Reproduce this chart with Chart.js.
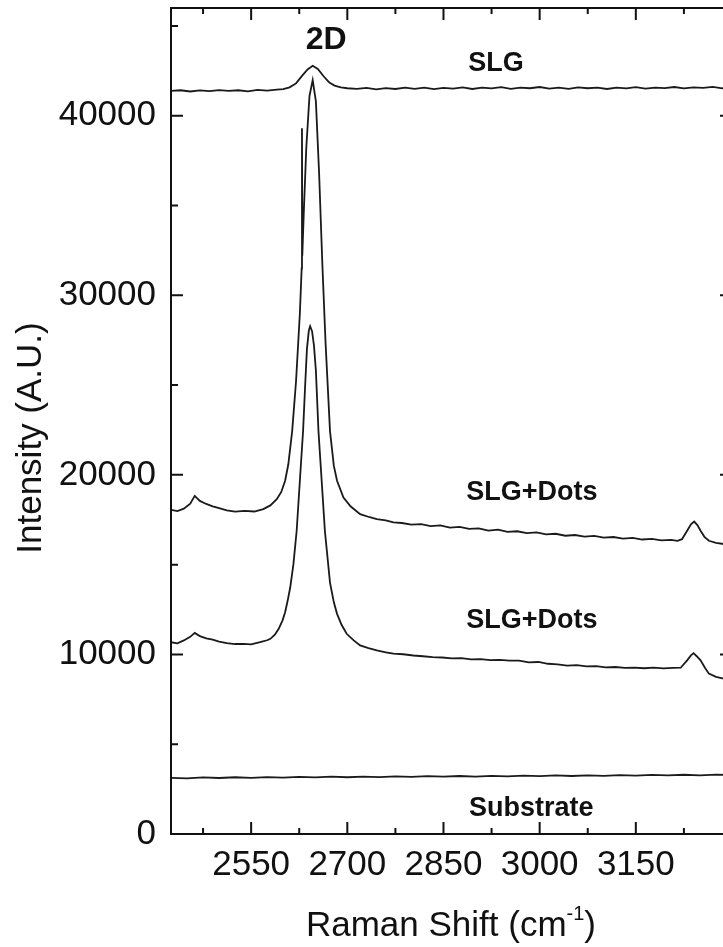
<!DOCTYPE html>
<html>
<head>
<meta charset="utf-8">
<script src="https://cdn.jsdelivr.net/npm/chart.js@4.4.1/dist/chart.umd.min.js"></script>
<style>
  html, body { margin: 0; padding: 0; background: #fff; overflow: hidden; }
  #wrap { width: 723px; height: 947px; overflow: hidden; }
  canvas { display: block; }
</style>
</head>
<body>
<div id="wrap"><canvas id="ramanChart" width="740" height="947"></canvas></div>
<script>
// Raman shift (cm-1) and intensity (A.U.)
const slgShift = [2425, 2440, 2455, 2470, 2485, 2500, 2515, 2530, 2545, 2560, 2575, 2590, 2600, 2610, 2620, 2630, 2638, 2646, 2654, 2663, 2672, 2680, 2690, 2700,
    2715, 2730, 2745, 2760, 2775, 2790, 2805, 2820, 2835, 2850, 2865, 2880, 2895, 2910, 2925, 2940, 2955, 2970, 2985, 3000,
    3015, 3030, 3045, 3060, 3075, 3090, 3105, 3120, 3135, 3150, 3165, 3180, 3195, 3210, 3225, 3240, 3255, 3270, 3285, 3300];
const slgIntensity = [41380, 41420, 41350, 41410, 41370, 41430, 41380, 41420, 41360, 41440, 41400, 41450, 41480, 41580, 41800, 42250, 42580, 42780, 42600, 42200, 41850, 41680, 41580, 41530,
    41500, 41550, 41470, 41540, 41490, 41560, 41500, 41570, 41480, 41550, 41510, 41580, 41490, 41560, 41520, 41590, 41500, 41570, 41530, 41600,
    41510, 41560, 41500, 41580, 41530, 41570, 41490, 41560, 41520, 41590, 41510, 41570, 41540, 41600, 41520, 41580, 41550, 41610, 41530, 41580];

const dots1Shift = [2425, 2435, 2445, 2455, 2462, 2470, 2480, 2490, 2500, 2512, 2525, 2540, 2555, 2569, 2580, 2590, 2597, 2603, 2608, 2614, 2620, 2626,
    2628.8, 2629.3, 2629.8, 2632, 2636, 2641, 2646, 2651, 2656, 2661, 2666, 2673, 2679, 2684, 2694, 2705, 2720, 2735, 2746, 2760, 2772, 2785,
    2800, 2815, 2830, 2845, 2860, 2875, 2890, 2905, 2920, 2935, 2950, 2965, 2980, 2995, 3010, 3025, 3040, 3055, 3070, 3085, 3100, 3115,
    3130, 3145, 3160, 3175, 3190, 3205, 3215, 3222, 3230, 3236, 3241, 3246, 3251, 3257, 3264, 3275, 3287, 3300];
const dots1Intensity = [18050, 17980, 18120, 18400, 18830, 18550, 18380, 18250, 18150, 18020, 17950, 17990, 17960, 18090, 18300, 18650, 19050, 19670, 20590, 22440, 25200, 29000,
    31500, 39300, 32200, 34500, 38200, 41100, 41980, 40800, 36800, 31800, 27400, 22440, 20500, 19670, 18740, 18250, 17810, 17640, 17540, 17460, 17350, 17320,
    17230, 17260, 17150, 17190, 17060, 17100, 16990, 17020, 16900, 16950, 16830, 16860, 16760, 16800, 16690, 16720, 16610, 16650, 16560, 16600, 16510, 16540,
    16450, 16490, 16400, 16440, 16350, 16380, 16330, 16420, 16890, 17250, 17400, 17200, 16890, 16550, 16330, 16210, 16150, 16100];

const dots2Shift = [2425, 2435, 2445, 2455, 2462, 2470, 2480, 2490, 2500, 2512, 2525, 2538, 2550, 2564, 2575, 2580, 2587, 2593, 2599, 2603, 2607, 2611,
    2616, 2621, 2626, 2631, 2634, 2637, 2640, 2642, 2645, 2648, 2651, 2655, 2660, 2665, 2673, 2679, 2684, 2691, 2699, 2710, 2720, 2733,
    2746, 2760, 2772, 2787, 2803, 2818, 2833, 2848, 2863, 2878, 2893, 2908, 2923, 2938, 2953, 2968, 2983, 2998, 3013, 3028, 3043, 3058,
    3073, 3088, 3103, 3118, 3133, 3148, 3163, 3178, 3193, 3208, 3220, 3230, 3236, 3240, 3245, 3251, 3258, 3264, 3275, 3287, 3300];
const dots2Intensity = [10680, 10620, 10780, 10980, 11200, 11020, 10900, 10820, 10720, 10630, 10580, 10590, 10560, 10680, 10790, 10870, 11100, 11430, 11900, 12350, 13000, 13740,
    15040, 16890, 19670, 22440, 24800, 27000, 28050, 28280, 28000, 27200, 25800, 22440, 19670, 16890, 14000, 12900, 12260, 11650, 11150, 10780, 10500, 10350,
    10220, 10120, 10040, 10010, 9940, 9900, 9850, 9830, 9780, 9790, 9720, 9740, 9680, 9700, 9650, 9660, 9560, 9580, 9480, 9450, 9380, 9400,
    9330, 9350, 9280, 9300, 9250, 9270, 9230, 9260, 9220, 9250, 9260, 9670, 9950, 10070, 9900, 9670, 9250, 8930, 8750, 8650, 8600];

const substrateShift = [2425, 2450, 2475, 2500, 2525, 2550, 2575, 2600, 2625, 2650, 2675, 2700, 2725, 2750, 2775, 2800, 2825, 2850, 2875,
    2900, 2925, 2950, 2975, 3000, 3025, 3050, 3075, 3100, 3125, 3150, 3175, 3200, 3225, 3250, 3275, 3300];
const substrateIntensity = [3130, 3100, 3150, 3120, 3160, 3130, 3170, 3140, 3180, 3150, 3190, 3160, 3200, 3170, 3210, 3180, 3220, 3190, 3230,
    3200, 3240, 3210, 3250, 3220, 3260, 3230, 3270, 3240, 3280, 3250, 3290, 3260, 3300, 3270, 3310, 3290];

const xTickLabels = [2550, 2700, 2850, 3000, 3150];
const xMinorTicks = [2475, 2625, 2775, 2925, 3075, 3225];
const yTickLabels = [0, 10000, 20000, 30000, 40000];
const yMinorTicks = [5000, 15000, 25000, 35000, 45000];

const fontFamily = "'Liberation Sans', Arial, Helvetica, sans-serif";

function toPoints(xs, ys) {
    return xs.map((v, i) => ({ x: v, y: ys[i] }));
}

function lineSet(label, xs, ys) {
    return {
        label: label,
        data: toPoints(xs, ys),
        borderColor: '#1a1a1a',
        borderWidth: 1.8,
        pointRadius: 0,
        tension: 0,
        fill: false
    };
}

// text labels placed in data coordinates
const notes = [
    { text: '2D', x: 2667, y: 44190, size: 32 },
    { text: 'SLG', x: 2932, y: 42890, size: 27 },
    { text: 'SLG+Dots', x: 2988, y: 19020, size: 27 },
    { text: 'SLG+Dots', x: 2988, y: 11890, size: 27 },
    { text: 'Substrate', x: 2987, y: 1440, size: 27 }
];

const frameAndText = {
    id: 'frameAndText',
    afterDraw(chart) {
        const ctx = chart.ctx;
        const a = chart.chartArea;
        const x = chart.scales.x;
        const y = chart.scales.y;

        ctx.save();
        ctx.strokeStyle = '#111';
        ctx.lineWidth = 2;
        ctx.strokeRect(a.left, a.top, a.right - a.left, a.bottom - a.top);

        // inward ticks on all four sides
        ctx.beginPath();
        const xTick = (v, len) => {
            const px = x.getPixelForValue(v);
            ctx.moveTo(px, a.bottom); ctx.lineTo(px, a.bottom - len);
            ctx.moveTo(px, a.top); ctx.lineTo(px, a.top + len);
        };
        const yTick = (v, len) => {
            const py = y.getPixelForValue(v);
            ctx.moveTo(a.left, py); ctx.lineTo(a.left + len, py);
            ctx.moveTo(a.right, py); ctx.lineTo(a.right - len, py);
        };
        xTickLabels.forEach(v => xTick(v, 12));
        xMinorTicks.forEach(v => xTick(v, 6));
        yTickLabels.forEach(v => yTick(v, 12));
        yMinorTicks.forEach(v => yTick(v, 7));
        ctx.stroke();

        // curve labels
        ctx.fillStyle = '#111';
        ctx.textAlign = 'center';
        ctx.textBaseline = 'middle';
        notes.forEach(n => {
            ctx.font = 'bold ' + n.size + 'px ' + fontFamily;
            ctx.fillText(n.text, x.getPixelForValue(n.x), y.getPixelForValue(n.y));
        });

        // x axis title with superscript
        const mainFont = '35px ' + fontFamily;
        const supFont = '20px ' + fontFamily;
        const part1 = 'Raman Shift (cm';
        const sup = '-1';
        const part2 = ')';
        ctx.font = mainFont;
        const w1 = ctx.measureText(part1).width;
        const w3 = ctx.measureText(part2).width;
        ctx.font = supFont;
        const w2 = ctx.measureText(sup).width;
        const total = w1 + w2 + w3;
        const cx = (a.left + 723) / 2 + 4;
        let tx = cx - total / 2;
        const base = 936;
        ctx.textAlign = 'left';
        ctx.textBaseline = 'alphabetic';
        ctx.font = mainFont;
        ctx.fillText(part1, tx, base);
        tx += w1;
        ctx.font = supFont;
        ctx.fillText(sup, tx, base - 16);
        tx += w2;
        ctx.font = mainFont;
        ctx.fillText(part2, tx, base);

        // y axis title
        ctx.translate(31, 438);
        ctx.rotate(-Math.PI / 2);
        ctx.textAlign = 'center';
        ctx.textBaseline = 'middle';
        ctx.font = mainFont;
        ctx.fillText('Intensity (A.U.)', 0, 0);
        ctx.restore();
    }
};

const canvas = document.getElementById('ramanChart');

new Chart(canvas, {
    type: 'line',
    data: {
        datasets: [
            lineSet('SLG', slgShift, slgIntensity),
            lineSet('SLG+Dots (upper)', dots1Shift, dots1Intensity),
            lineSet('SLG+Dots (lower)', dots2Shift, dots2Intensity),
            lineSet('Substrate', substrateShift, substrateIntensity)
        ]
    },
    options: {
        responsive: false,
        animation: false,
        devicePixelRatio: 1,
        layout: {
            padding: { left: 0, top: 8, right: 8, bottom: 0 }
        },
        plugins: {
            legend: { display: false },
            tooltip: { enabled: false }
        },
        scales: {
            x: {
                type: 'linear',
                min: 2425,
                max: 3300,
                afterBuildTicks: (s) => { s.ticks = xTickLabels.map(v => ({ value: v })); },
                afterFit: (s) => {
                    s.height = 113;
                    s.paddingLeft = 0;
                    s.paddingRight = 0;
                },
                grid: { display: false, drawTicks: false },
                border: { display: false },
                ticks: {
                    color: '#111',
                    padding: 10,
                    maxRotation: 0,
                    autoSkip: false,
                    font: { family: fontFamily, size: 35 },
                    callback: (v) => String(v)
                }
            },
            y: {
                min: 0,
                max: 46000,
                afterBuildTicks: (s) => { s.ticks = yTickLabels.map(v => ({ value: v })); },
                afterFit: (s) => {
                    s.width = 171;
                    s.paddingTop = 0;
                    s.paddingBottom = 0;
                },
                grid: { display: false, drawTicks: false },
                border: { display: false },
                ticks: {
                    color: '#111',
                    padding: 15,
                    autoSkip: false,
                    font: { family: fontFamily, size: 35 },
                    callback: (v) => String(v)
                }
            }
        }
    },
    plugins: [frameAndText]
});
</script>
</body>
</html>
